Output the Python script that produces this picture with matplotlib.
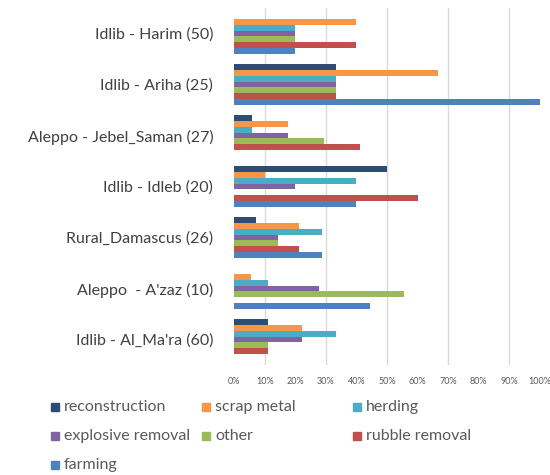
import numpy as np
import matplotlib; matplotlib.use('Agg')
import matplotlib.pyplot as plt
from matplotlib.patches import Rectangle

categories = ['Idlib - Harim (50)', 'Idlib - Ariha (25)', 'Aleppo - Jebel_Saman (27)',
              'Idlib - Idleb (20)', 'Rural_Damascus (26)', "Aleppo  - A'zaz (10)",
              "Idlib - Al_Ma'ra (60)"]
series = ['reconstruction', 'scrap metal', 'herding', 'explosive removal',
          'other', 'rubble removal', 'farming']
reconstruction = [0.0, 0.333, 0.059, 0.50, 0.071, 0.0, 0.111]
scrap_metal = [0.40, 0.667, 0.176, 0.10, 0.214, 0.056, 0.222]
herding = [0.20, 0.333, 0.059, 0.40, 0.286, 0.111, 0.333]
explosive_removal = [0.20, 0.333, 0.176, 0.20, 0.143, 0.278, 0.222]
other = [0.20, 0.333, 0.294, 0.0, 0.143, 0.556, 0.111]
rubble_removal = [0.40, 0.333, 0.412, 0.60, 0.214, 0.0, 0.111]
farming = [0.20, 1.0, 0.0, 0.40, 0.286, 0.444, 0.0]
values = [reconstruction, scrap_metal, herding, explosive_removal, other, rubble_removal, farming]
colors = ['#2C4D75', '#F79646', '#4BACC6', '#8064A2', '#9BBB59', '#C0504D', '#4F81BD']
xticks = np.arange(0, 1.01, 0.1)
xtick_labels = [f'{int(round(t*100))}%' for t in xticks]

plt.rcParams['font.family'] = ['Lato', 'DejaVu Sans']

fig = plt.figure(figsize=(5.5, 4.75), dpi=100)
ax = fig.add_axes([234/550, 1-365/475, 306/550, 357/475])

bh = 0.117
y = np.arange(len(categories))
for k, (name, vals, c) in enumerate(zip(series, values, colors)):
    ax.barh(y + (k-3)*bh, vals, height=bh, color=c, zorder=3)

# only every other gridline shows up in the source image
for g in [0.1, 0.3, 0.5, 0.7, 0.9]:
    ax.axvline(g, color='#D9D9D9', lw=1, zorder=1)

ax.set_xlim(0, 1)
ax.set_ylim(6.5, -0.5)
ax.set_yticks(y)
ax.set_yticklabels(categories, fontsize=11.5, color='#404040')
ax.set_xticks(xticks)
ax.set_xticklabels(xtick_labels, fontsize=6.5, color='#595959')
ax.tick_params(axis='both', length=0)
ax.tick_params(axis='y', pad=15)
ax.tick_params(axis='x', pad=9)
for s in ax.spines.values():
    s.set_visible(False)

# Excel-style legend: 3 equal-width columns, row-major
col_x = [51, 202, 353]
row_y = [407, 436, 465]
for i, (name, c) in enumerate(zip(series, colors)):
    cx, cy = col_x[i % 3], row_y[i // 3]
    fig.patches.append(Rectangle((cx/550, 1-(cy+4)/475), 8/550, 8/475,
                                 transform=fig.transFigure, color=c))
    fig.text((cx+13)/550, 1-cy/475, name, fontsize=11.5, color='#595959', va='center')

fig.savefig('out.png', dpi=100)
